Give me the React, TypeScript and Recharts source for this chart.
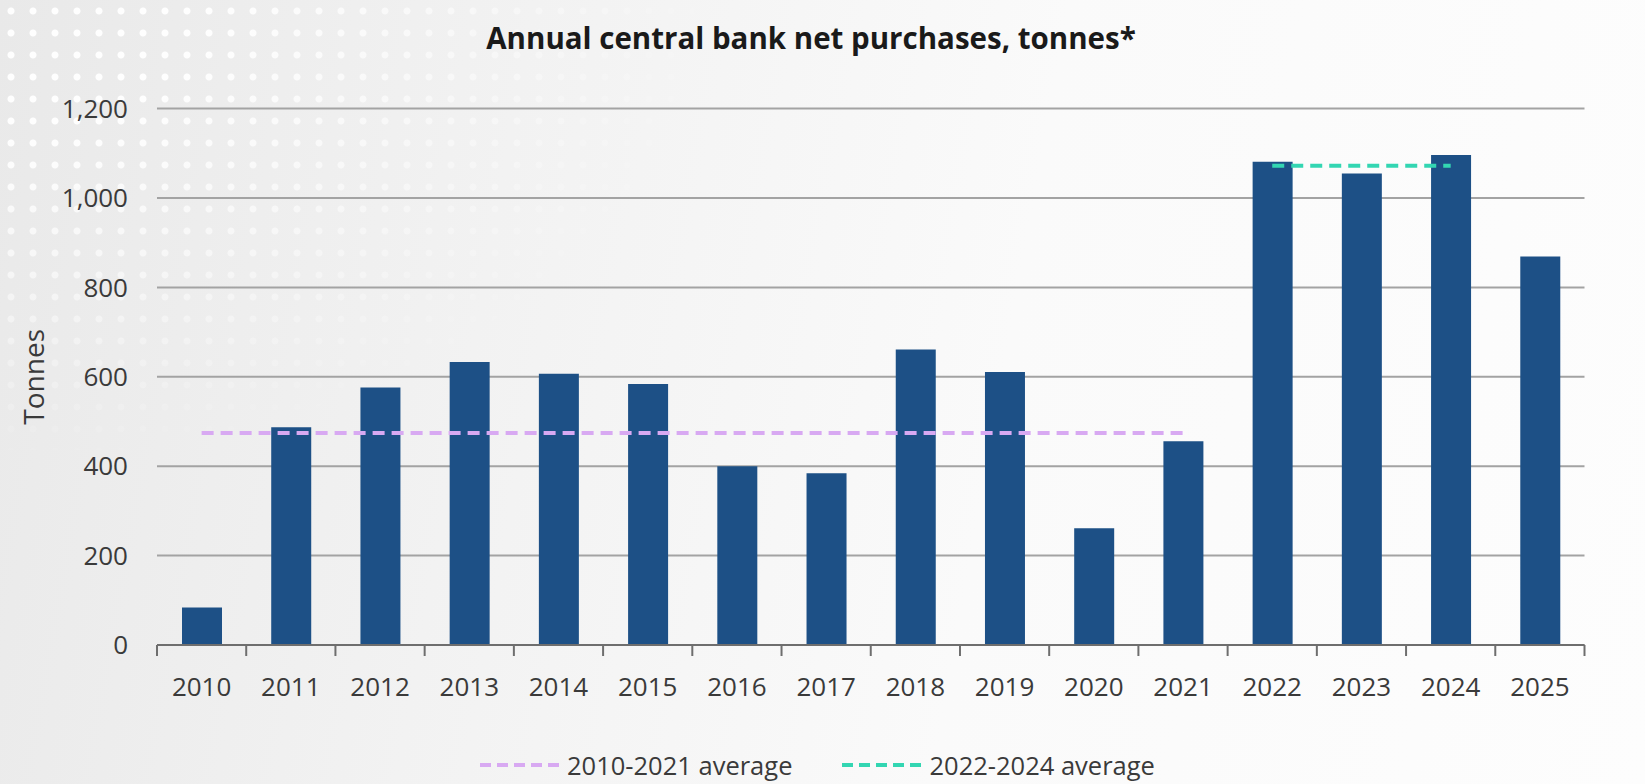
import React from "react";
import { ComposedChart, Bar, Line, XAxis, YAxis, CartesianGrid } from "recharts";

const years = ["2010","2011","2012","2013","2014","2015","2016","2017","2018","2019","2020","2021","2022","2023","2024","2025"];
const purchases = [84, 487, 576, 633, 607, 584, 400, 384, 661, 611, 261, 456, 1081, 1055, 1096, 869];
const avg2010_2021 = [474, 474, 474, 474, 474, 474, 474, 474, 474, 474, 474, 474, null, null, null, null];
const avg2022_2024 = [null, null, null, null, null, null, null, null, null, null, null, null, 1072, 1072, 1072, null];
const yTicks = [0, 200, 400, 600, 800, 1000, 1200];

const data = years.map((y, i) => ({
  year: y,
  value: purchases[i],
  avgA: avg2010_2021[i],
  avgB: avg2022_2024[i],
}));

const FONT = "'Open Sans', 'Noto Sans', sans-serif";
const BAR = "#1d5086";
const PURPLE = "#d8a9f2";
const GREEN = "#33d6b2";
const TEXT = "#3a3a3a";

const TICK_SIZE = 11;
const TICK_MARGIN = 40;

const XTick = (props: any) => {
  const { x, y, payload, index } = props;
  const off = payload && payload.offset ? payload.offset : 0;
  const axisY = y - TICK_MARGIN - TICK_SIZE;
  const isLast = index === years.length - 1;
  return (
    <g>
      <line x1={x - off} x2={x - off} y1={axisY} y2={axisY + TICK_SIZE} stroke="#6e6e6e" strokeWidth={2} />
      {isLast && (
        <line x1={x + off} x2={x + off} y1={axisY} y2={axisY + TICK_SIZE} stroke="#6e6e6e" strokeWidth={2} />
      )}
      <text x={x} y={y} textAnchor="middle" fontFamily={FONT} fontSize={26} fill={TEXT}>
        {payload.value}
      </text>
    </g>
  );
};

const LegendItem = ({ color, label }: { color: string; label: string }) => (
  <div style={{ display: "flex", alignItems: "center" }}>
    <svg width={84} height={10} style={{ marginRight: 3 }}>
      <line x1={0} x2={84} y1={5} y2={5} stroke={color} strokeWidth={4} strokeDasharray="11 6" />
    </svg>
    <span style={{ fontFamily: FONT, fontSize: 25.5, color: TEXT, whiteSpace: "nowrap" }}>{label}</span>
  </div>
);

export default function App() {
  return (
    <div
      style={{
        position: "fixed",
        left: 0,
        top: 0,
        width: 1645,
        height: 784,
        overflow: "hidden",
        background: "linear-gradient(100deg, #e9e9e9 0%, #f2f2f2 30%, #fafafa 60%, #fdfdfd 100%)",
      }}
    >
      <div
        style={{
          position: "absolute",
          left: 0,
          top: 0,
          width: 700,
          height: 450,
          backgroundImage: "radial-gradient(circle, rgba(255,255,255,0.95) 3px, rgba(255,255,255,0) 4px)",
          backgroundSize: "22px 22px",
          WebkitMaskImage: "radial-gradient(ellipse at 0% 0%, rgba(0,0,0,1) 20%, rgba(0,0,0,0) 75%)",
          maskImage: "radial-gradient(ellipse at 0% 0%, rgba(0,0,0,1) 20%, rgba(0,0,0,0) 75%)",
        }}
      />
      <div
        style={{
          position: "absolute",
          left: 0,
          top: 17,
          width: 1622,
          textAlign: "center",
          fontFamily: FONT,
          fontWeight: 700,
          fontSize: 29.5,
          color: "#1a1a1a",
          letterSpacing: 0,
        }}
      >
        Annual central bank net purchases, tonnes*
      </div>
      <div style={{ position: "absolute", left: 0, top: 0 }}>
        <ComposedChart
          width={1645}
          height={784}
          data={data}
          margin={{ top: 108.6, right: 60.5, left: 0, bottom: 79 }}
        >
          <CartesianGrid vertical={false} stroke="#a3a3a3" strokeWidth={2} />
          <XAxis
            dataKey="year"
            height={60}
            axisLine={{ stroke: "#6e6e6e", strokeWidth: 2 }}
            tickLine={false}
            tickSize={TICK_SIZE}
            tickMargin={TICK_MARGIN}
            tick={<XTick />}
            interval={0}
          />
          <YAxis
            width={157}
            domain={[0, 1200]}
            ticks={yTicks}
            axisLine={false}
            tickLine={false}
            tickSize={0}
            tickMargin={29}
            tickFormatter={(v: number) => v.toLocaleString("en-US")}
            tick={{ fontFamily: FONT, fontSize: 26, fill: TEXT }}
            label={{
              value: "Tonnes",
              angle: -90,
              position: "insideLeft",
              offset: 34,
              style: { fontFamily: FONT, fontSize: 28, fill: TEXT, textAnchor: "middle" },
            }}
          />
          <Bar dataKey="value" fill={BAR} barSize={40} isAnimationActive={false} />
          <Line
            dataKey="avgA"
            stroke={PURPLE}
            strokeWidth={4}
            strokeDasharray="12 7"
            dot={false}
            activeDot={false}
            connectNulls={false}
            isAnimationActive={false}
          />
          <Line
            dataKey="avgB"
            stroke={GREEN}
            strokeWidth={4}
            strokeDasharray="12 7"
            dot={false}
            activeDot={false}
            connectNulls={false}
            isAnimationActive={false}
          />
        </ComposedChart>
      </div>
      <div style={{ position: "absolute", left: 480, top: 748, display: "flex", alignItems: "center" }}>
        <LegendItem color={PURPLE} label="2010-2021 average" />
        <div style={{ width: 50 }} />
        <LegendItem color={GREEN} label="2022-2024 average" />
      </div>
    </div>
  );
}
